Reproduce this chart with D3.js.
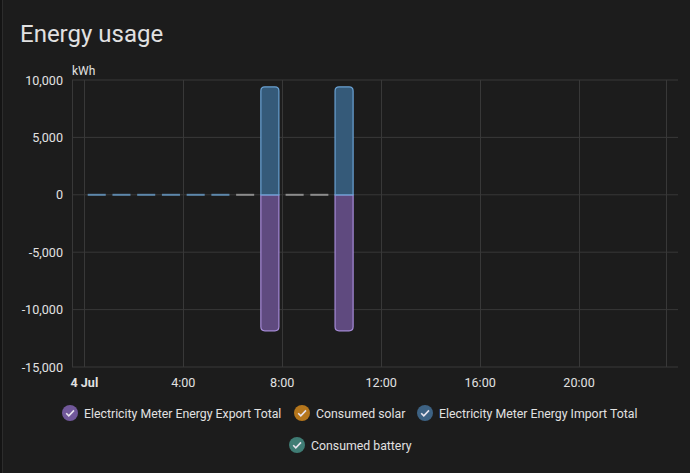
<!DOCTYPE html>
<html>
<head>
<meta charset="utf-8">
<script src="https://cdn.jsdelivr.net/npm/d3@7"></script>
<style>
  html, body { margin: 0; padding: 0; background: #141414; }
  body { width: 690px; height: 473px; overflow: hidden; font-family: Roboto, "Noto Sans", sans-serif; }
</style>
</head>
<body>
<div id="chart"></div>
<script>
// hours of the day (bar starts at hour, centred at hour + 0.5)
var hours = [0, 1, 2, 3, 4, 5, 6, 7, 8, 9, 10];
var importValues = [0, 0, 0, 0, 0, 0, 0, 9400, 0, 0, 9400];
var exportValues = [0, 0, 0, 0, 0, 0, 0, -11850, 0, 0, -11850];

var yTicks = [-15000, -10000, -5000, 0, 5000, 10000];
var xTicks = [0, 4, 8, 12, 16, 20];
var xTickLabels = ["4 Jul", "4:00", "8:00", "12:00", "16:00", "20:00"];
var xBounds = [-0.5, 23.5];

var legendNames = ["Electricity Meter Energy Export Total", "Consumed solar", "Electricity Meter Energy Import Total", "Consumed battery"];
var legendColors = ["#71589a", "#b5761c", "#3d6283", "#3f7c74"];

var width = 690, height = 473;

var svg = d3.select('#chart')
  .append('svg')
  .attr('width', width)
  .attr('height', height)

// card
svg.append('rect')
  .attr('x', 2.5).attr('y', -12)
  .attr('width', 720).attr('height', 520)
  .attr('rx', 12)
  .attr('fill', '#1c1c1c')
  .attr('stroke', '#2c2c2c')

svg.append('text')
  .attr('x', 20).attr('y', 42)
  .attr('fill', '#e1e1e1')
  .style('font-size', '24px')
  .text('Energy usage')

var x = d3.scaleLinear().domain([-0.5, 24]).range([72, 678]);
var y = d3.scaleLinear().domain([-15000, 10000]).range([367, 80]);

var grid = svg.append('g')

// horizontal grid
grid.selectAll('.hgrid')
  .data(yTicks)
  .join('line')
  .attr('x1', x(-0.5)).attr('x2', x(24))
  .attr('y1', d => y(d)).attr('y2', d => y(d))
  .attr('stroke', '#383838')

// vertical grid
grid.selectAll('.vgrid')
  .data(xTicks.concat(xBounds))
  .join('line')
  .attr('x1', d => Math.round(x(d)) + 0.5).attr('x2', d => Math.round(x(d)) + 0.5)
  .attr('y1', y(10000)).attr('y2', y(-15000))
  .attr('stroke', '#383838')

var fmt = d3.format(",");
svg.selectAll('.ylab')
  .data(yTicks)
  .join('text')
  .attr('x', 63).attr('y', d => y(d) + 4.5)
  .attr('text-anchor', 'end')
  .attr('fill', '#e1e1e1')
  .style('font-size', '12.6px')
  .text(d => fmt(d).replace('\u2212', '-'))

svg.append('text')
  .attr('x', 72).attr('y', 75)
  .attr('fill', '#e1e1e1')
  .style('font-size', '12px')
  .text('kWh')

svg.selectAll('.xlab')
  .data(xTicks)
  .join('text')
  .attr('x', d => x(d)).attr('y', 387)
  .attr('text-anchor', 'middle')
  .attr('fill', '#e1e1e1')
  .style('font-size', '12.6px')
  .style('font-weight', (d, i) => i == 0 ? 'bold' : 'normal')
  .text((d, i) => xTickLabels[i])

// bars
var barW = (x(1) - x(0)) * 0.73;

function barPath(h, v) {
  var x0 = x(h + 0.5) - barW / 2, x1 = x0 + barW;
  var y0 = y(0), y1 = y(v);
  var r = 4, s = v > 0 ? 1 : -1;
  return "M" + x0 + "," + y0 + "L" + x0 + "," + (y1 + s * r) +
    "Q" + x0 + "," + y1 + " " + (x0 + r) + "," + y1 +
    "L" + (x1 - r) + "," + y1 +
    "Q" + x1 + "," + y1 + " " + x1 + "," + (y1 + s * r) +
    "L" + x1 + "," + y0 + "Z";
}

var bars = svg.append('g')

var series = [
  { values: exportValues, fill: '#5f4a7f', stroke: '#a68bd8' },
  { values: importValues, fill: '#355a79', stroke: '#6aa3d5' }
]

series.forEach(function (s) {
  var data = hours.map((h, i) => ({ h: h, v: s.values[i] }));
  bars.selectAll(null)
    .data(data.filter(d => d.v != 0))
    .join('path')
    .attr('d', d => barPath(d.h, d.v))
    .attr('fill', s.fill)
    .attr('stroke', s.stroke)
    .attr('stroke-width', 1.2)
})

// zero bars show only as a short line
bars.selectAll('.zero')
  .data(hours.filter((h, i) => importValues[i] == 0))
  .join('line')
  .attr('x1', d => x(d + 0.5) - barW / 2)
  .attr('x2', d => x(d + 0.5) + barW / 2)
  .attr('y1', y(0)).attr('y2', y(0))
  .attr('stroke', (d) => d < 6 ? '#5d87ab' : '#8c8c8c')
  .attr('stroke-width', 2)

// legend
var legendPos = [[70, 413], [302, 413], [425, 413], [297, 445]];
var leg = svg.selectAll('.legend')
  .data(legendNames)
  .join('g')
  .attr('transform', (d, i) => 'translate(' + legendPos[i][0] + ',' + legendPos[i][1] + ')')

leg.append('circle')
  .attr('r', 8)
  .attr('fill', (d, i) => legendColors[i])

leg.append('path')
  .attr('d', 'M-3.8,0.2 L-1.2,2.8 L4,-2.6')
  .attr('fill', 'none')
  .attr('stroke', '#e8e4ee')
  .attr('stroke-width', 1.6)

leg.append('text')
  .attr('x', 14).attr('y', 4.5)
  .attr('fill', '#e1e1e1')
  .style('font-size', '12.3px')
  .text(d => d)
</script>
</body>
</html>
